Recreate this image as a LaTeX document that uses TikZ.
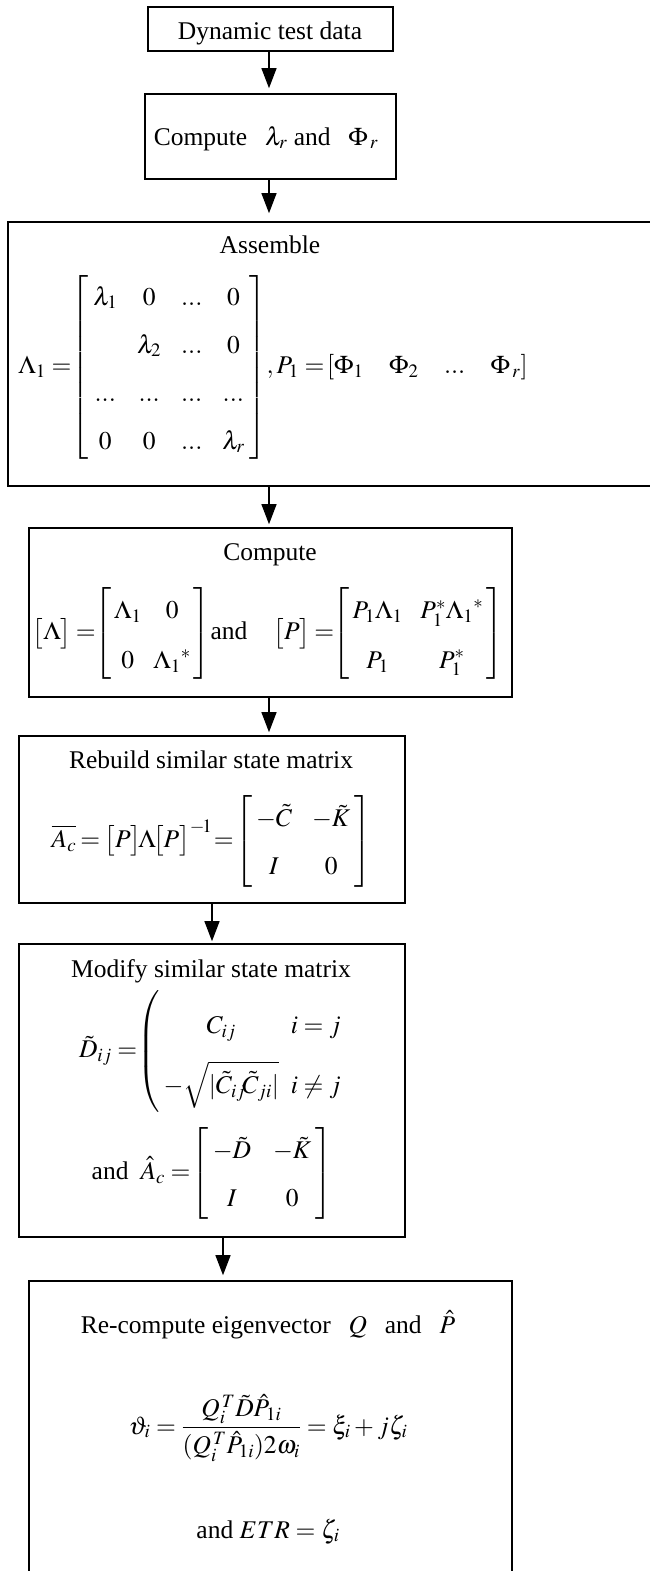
\documentclass[tikz,border=0pt]{standalone}
\usepackage{mathptmx}
\usepackage[no-math]{fontspec}
\setmainfont{Liberation Serif}
\usetikzlibrary{arrows.meta}
\begin{document}
\begin{tikzpicture}[x=1pt,y=-1pt,
  box/.style={draw,line width=1.6pt,inner sep=0pt},
  txt/.style={inner sep=0pt,font=\fontsize{25.5}{30}\selectfont},
  arr/.style={line width=1.2pt,-{Triangle[width=15pt,length=20pt]}}]
\useasboundingbox (0,0) rectangle (650,1571);
\clip (0,0) rectangle (650,1571);
% boxes
\node[box,minimum width=667pt,minimum height=264pt] (b3) at (341.5,354) {};
\node[box,minimum width=245pt,minimum height=44pt] (b1) at (270.5,29) {};
\node[box,minimum width=251pt,minimum height=85pt] (b2) at (270.5,136.5) {};
\node[box,minimum width=483pt,minimum height=169pt] (b4) at (270.5,612.5) {};
\node[box,minimum width=386pt,minimum height=167pt] (b5) at (212,819.5) {};
\node[box,minimum width=386pt,minimum height=293pt] (b6) at (212,1090.5) {};
\node[box,minimum width=483pt,minimum height=299pt] (b7) at (270.5,1430.5) {};
% texts
\node[txt,anchor=base] (t1) at (270,40) {Dynamic test data};
\node[txt,anchor=base] (t2) at (266,145) {Compute\hspace{0.7em}$\lambda_r$ and\hspace{0.7em}$\Phi_{\,r}$};
\node[txt,anchor=base] (t3) at (270,253) {Assemble};
\node[txt] (f3) at (273,367.5) {\renewcommand\arraystretch{1.6}\delimitershortfall=15pt$\Lambda_1=\mskip-4mu\left[\begin{array}{@{\hspace{5pt}}c@{\hspace{20pt}}c@{\hspace{20pt}}c@{\hspace{20pt}}c@{\hspace{5pt}}}\lambda_1&0&...&0\\ &\lambda_2&...&0\\ ...&...&...&...\\ 0&0&...&\lambda_r\end{array}\right]\mskip-2mu,P_1=\mskip-2mu[\Phi_1\quad\Phi_2\quad...\quad\Phi_{\,r}]$};
\node[txt,anchor=base] (t4) at (270,560) {Compute};
\node[txt] (f4) at (268,633.5) {\renewcommand\arraystretch{1.65}\delimitershortfall=12pt\thickmuskip=3mu$\bigl[\Lambda\bigr]=\mskip-4mu\left[\begin{array}{@{\,}c@{\hspace{12pt}}c@{\,}}\Lambda_1&0\\0&{\Lambda_1}^{*}\end{array}\right]$and\hspace{26pt}$\bigl[P\bigr]=\mskip-4mu\left[\begin{array}{@{\,}c@{\hspace{18pt}}c@{\,}}P_1\Lambda_1&P_1^{*}{\Lambda_1}^{*}\\P_1&P_1^{*}\end{array}\right]$};
\node[txt,anchor=base] (t5) at (211,768) {Rebuild similar state matrix};
\node[txt] (f5) at (211.5,841) {\renewcommand\arraystretch{1.6}\delimitershortfall=10pt\thickmuskip=3mu$\overline{A_c}=\bigl[P\bigr]\!\Lambda\!\bigl[P\bigr]^{-\!1}\!=\mskip-2mu\left[\begin{array}{@{\hspace{4pt}}c@{\hspace{20pt}}c@{\hspace{4pt}}}-\tilde{C}&-\tilde{K}\\ I&0\end{array}\right]$};
\node[txt,anchor=base] (t6) at (211,977) {Modify similar state matrix};
\node[txt] (f6a) at (213,1051.5) {\renewcommand\arraystretch{2.0}$\tilde{D}_{ij}=\mskip-4mu\left(\begin{array}{@{\hspace{4pt}}c@{\hspace{12pt}}l}C_{ij}&i=j\\-\sqrt{|\tilde{C}_{ij}\!\tilde{C}_{ji}|}&i\neq j\end{array}\right.$};
\node[txt] (f6b) at (212,1173) {\renewcommand\arraystretch{1.6}\delimitershortfall=10pt and\hspace{12pt}$\hat{A}_c=\mskip-3mu\left[\begin{array}{@{\hspace{4pt}}c@{\hspace{22pt}}c@{\hspace{4pt}}}-\tilde{D}&-\tilde{K}\\ I&0\end{array}\right]$};
\node[txt,anchor=base] (t7) at (268,1333) {Re-compute eigenvector\hspace{0.7em}$Q$\hspace{0.7em}and\hspace{0.7em}$\hat{P}$};
\node[txt] (f7a) at (268,1428) {$\displaystyle\vartheta_i=\frac{Q_i^{\,T}\tilde{D}\hat{P}_{1i}}{(Q_i^{\,T}\hat{P}_{1i})2\omega_i}=\xi_i+j\zeta_i$};
\node[txt,anchor=base] (f7b) at (268,1538) {and $ETR=\zeta_i$};
% arrows
\coordinate (xa) at (269,0);
\coordinate (xb) at (212,0);
\coordinate (xc) at (223,0);
\draw[arr,shorten >=5pt] (b1.south -| xa) -- (b2.north -| xa);
\draw[arr,shorten >=8pt] (b2.south -| xa) -- (b3.north -| xa);
\draw[arr,shorten >=3pt] (b3.south -| xa) -- (b4.north -| xa);
\draw[arr,shorten >=3pt] (b4.south -| xa) -- (b5.north -| xa);
\draw[arr,shorten >=2pt] (b5.south -| xb) -- (b6.north -| xb);
\draw[arr,shorten >=5pt] (b6.south -| xc) -- (b7.north -| xc);
\end{tikzpicture}
\end{document}
